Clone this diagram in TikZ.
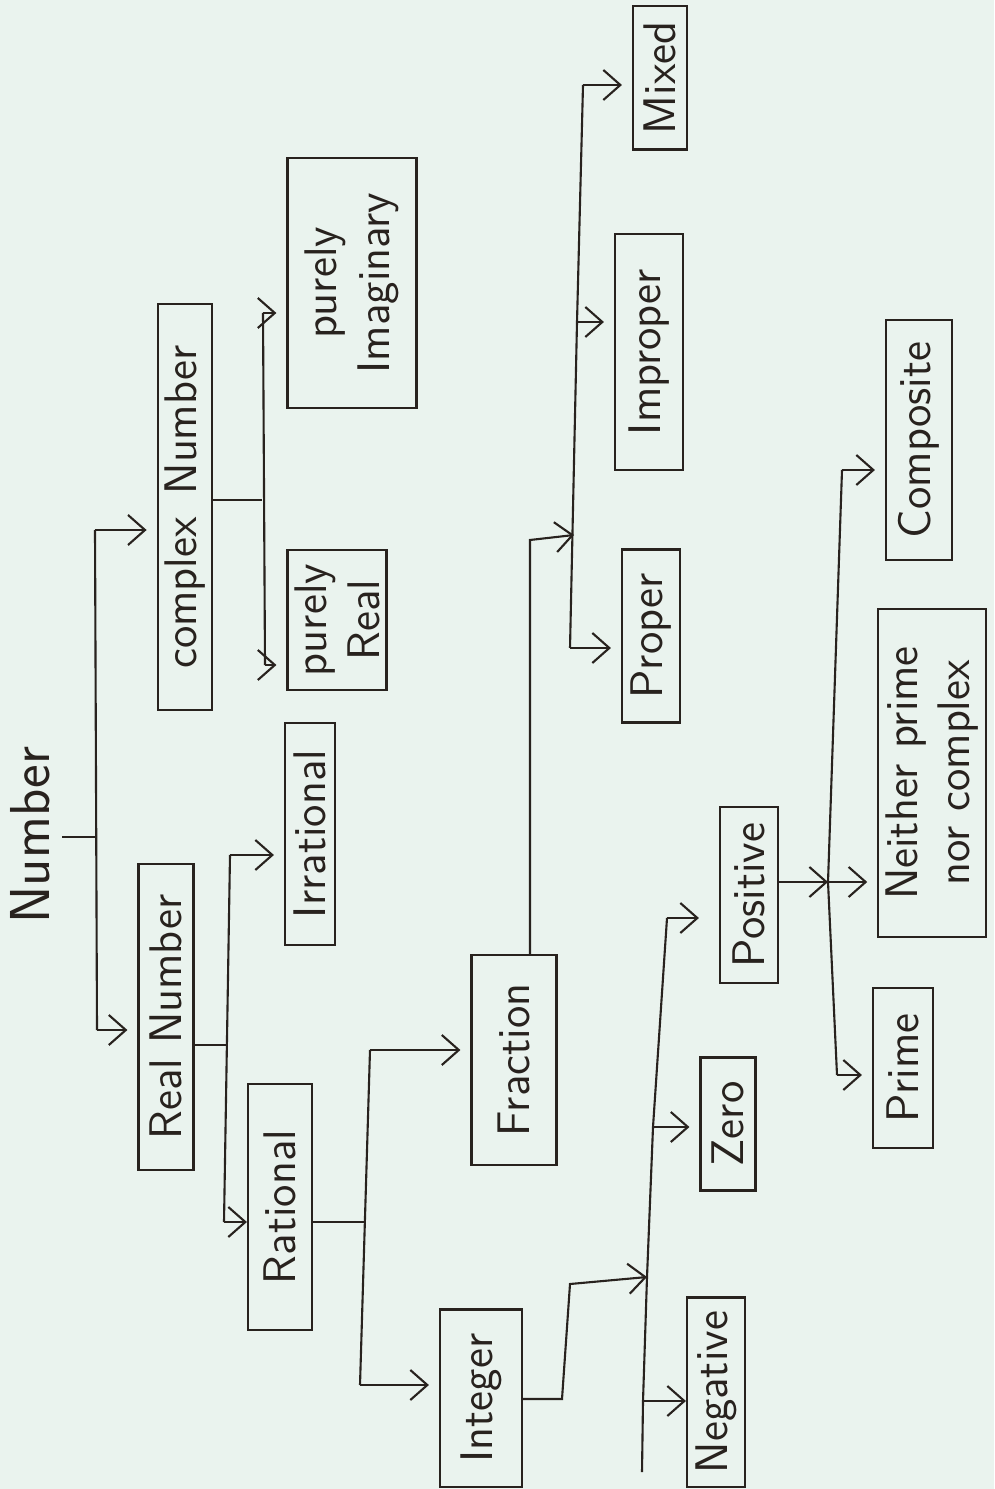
\documentclass[tikz,border=0pt]{standalone}
\usepackage{tikz}
\usetikzlibrary{arrows.meta}
\definecolor{paper}{RGB}{234,243,238}
\definecolor{ink}{RGB}{40,34,30}

\begin{document}
\begin{tikzpicture}[x=0.01cm, y=-0.01cm,
every node/.style={font=\sffamily\fontsize{13}{15}\selectfont, text=ink},
box/.style={draw=ink, line width=0.6pt, rotate=90, inner sep=2pt, align=center},
ln/.style={draw=ink, line width=0.6pt},
arr/.style={ln, -{Straight Barb[length=1.7mm,width=3mm]}, shorten >=1mm}]

\fill[paper] (0,0) rectangle (994,1489);
\useasboundingbox (0,0) rectangle (994,1489);

% boxes
{
\node[rotate=90, font=\sffamily\fontsize{16}{18}\selectfont] (num) at (30,835) {Number};

\node[box, minimum width=3.05cm, minimum height=0.55cm] (real) at (166,1017) {Real Number};
\node[box, minimum width=4.05cm, minimum height=0.53cm] (cplx) at (185,507) {complex\enspace Number};

\node[box, minimum width=2.22cm, minimum height=0.5cm] (irr) at (310,834) {Irrational};
\node[box, minimum width=2.45cm, minimum height=0.64cm] (rat) at (280,1207) {Rational};
\node[box, minimum width=1.4cm, minimum height=0.95cm] (pre) at (337,620) {purely\\Real};
\node[box, minimum width=2.5cm, minimum height=1.29cm] (pim) at (352,283) {purely\\Imaginary};

\node[box, minimum width=2.1cm, minimum height=0.85cm] (frac) at (514,1060) {Fraction};
\node[box, minimum width=1.77cm, minimum height=0.82cm] (integ) at (481,1398) {Integer};

\node[box, minimum width=1.73cm, minimum height=0.58cm] (prop) at (651,636) {Proper};
\node[box, minimum width=2.35cm, minimum height=0.68cm] (impr) at (649,352) {Improper};
\node[box, minimum width=1.43cm, minimum height=0.54cm] (mixed) at (660,78) {Mixed};

\node[box, minimum width=1.89cm, minimum height=0.58cm] (neg) at (716,1392) {Negative};
\node[box, minimum width=1.33cm, minimum height=0.55cm] (zero) at (728,1124) {Zero};
\node[box, minimum width=1.76cm, minimum height=0.58cm] (pos) at (749,895) {Positive};

\node[box, minimum width=2.4cm, minimum height=0.66cm] (comp) at (919,440) {Composite};
\node[box, minimum width=3.27cm, minimum height=1.05cm] (neith) at (932,773) {Neither prime\\nor complex};
\node[box, minimum width=1.6cm, minimum height=0.6cm] (prime) at (903,1068) {Prime};
}

% number
\coordinate (n0) at (95,837);
\coordinate (n0a) at (95,530);
\coordinate (n0b) at (97,1030);
\draw[ln] (num.south |- n0) -- (n0);
\draw[ln] (n0a) -- (n0b);
\draw[arr] (n0a) -- (n0a -| cplx.north);
\draw[arr] (n0b) -- (n0b -| real.north);

% real number
\coordinate (r0) at (226,1045);
\coordinate (r0a) at (230,855);
\coordinate (r0b) at (224,1222);
\draw[ln] (real.south |- r0) -- (r0);
\draw[ln] (r0a) -- (r0b);
\draw[arr] (r0a) -- (r0a -| irr.north);
\draw[arr, shorten >=0pt] (r0b) -- (r0b -| rat.north);

% complex number
\coordinate (c0) at (262,500);
\coordinate (c0a) at (263,313);
\coordinate (c0b) at (265,665);
\draw[ln] (cplx.south |- c0) -- (c0);
\draw[ln] (c0a) -- (c0b);
\draw[arr] (c0a) -- (c0a -| pim.north);
\draw[arr] (c0b) -- (c0b -| pre.north);

% rational
\coordinate (q0) at (365,1222);
\coordinate (q0a) at (370,1050);
\coordinate (q0b) at (360,1385);
\draw[ln] (rat.south |- q0) -- (q0);
\draw[ln] (q0a) -- (q0b);
\draw[arr] (q0a) -- (q0a -| frac.north);
\draw[arr] (q0b) -- (q0b -| integ.north);

% fraction
\coordinate (p0) at (530,540);
\coordinate (p1) at (574,535);
\coordinate (p1a) at (583,85);
\coordinate (p1c) at (577,322);
\coordinate (p1b) at (570,648);
\draw[arr, shorten >=0pt] (p0 |- frac.east) -- (p0) -- (p1);
\draw[ln] (p1a) -- (p1c) -- (p1b);
\draw[arr] (p1a) -- (p1a -| mixed.north);
\draw[arr] (p1c) -- (p1c -| impr.north);
\draw[arr] (p1b) -- (p1b -| prop.north);

% integer
\coordinate (g0) at (562,1399);
\coordinate (g1) at (570,1284);
\coordinate (g2) at (647,1277);
\coordinate (g2a) at (667,918);
\coordinate (g2c) at (653,1127);
\coordinate (g2b) at (643,1401);
\coordinate (g2e) at (642,1472);
\draw[arr, shorten >=0pt] (integ.south |- g0) -- (g0) -- (g1) -- (g2);
\draw[ln] (g2a) -- (g2c) -- (g2) -- (g2b) -- (g2e);
\draw[arr, shorten >=2mm] (g2a) -- (g2a -| pos.north);
\draw[arr] (g2c) -- (g2c -| zero.north);
\draw[arr, shorten >=0pt] (g2b) -- (g2b -| neg.north);

% positive
\coordinate (s0) at (828,882);
\coordinate (s0a) at (842,470);
\coordinate (s0b) at (837,1075);
\draw[arr, shorten >=0pt] (pos.south |- s0) -- (s0);
\draw[ln] (s0a) -- (s0) -- (s0b);
\draw[arr] (s0a) -- (s0a -| comp.north);
\draw[arr] (s0) -- (s0 -| neith.north);
\draw[arr] (s0b) -- (s0b -| prime.north);

\end{tikzpicture}
\end{document}
